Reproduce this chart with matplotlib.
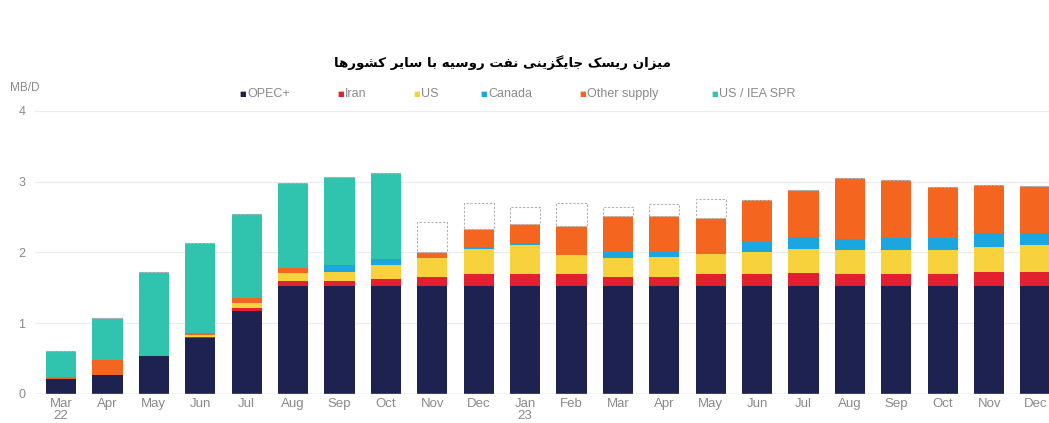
import numpy as np
import matplotlib
matplotlib.use("Agg")
import matplotlib.pyplot as plt

# Monthly supply (MB/D), Mar 2022 - Dec 2023
months = ["Mar\n22", "Apr", "May", "Jun", "Jul", "Aug", "Sep", "Oct", "Nov", "Dec",
          "Jan\n23", "Feb", "Mar", "Apr", "May", "Jun", "Jul", "Aug", "Sep", "Oct", "Nov", "Dec"]
opec = [0.21, 0.27, 0.53, 0.79, 1.17, 1.52, 1.52, 1.52, 1.52, 1.52,
        1.52, 1.52, 1.52, 1.52, 1.52, 1.52, 1.52, 1.52, 1.52, 1.52, 1.52, 1.52]
iran = [0.0, 0.0, 0.0, 0.01, 0.05, 0.07, 0.07, 0.11, 0.135, 0.17,
        0.18, 0.17, 0.135, 0.135, 0.17, 0.17, 0.19, 0.17, 0.17, 0.17, 0.20, 0.20]
us = [0.0, 0.0, 0.0, 0.04, 0.06, 0.12, 0.14, 0.19, 0.27, 0.36,
      0.41, 0.27, 0.265, 0.275, 0.295, 0.31, 0.34, 0.35, 0.35, 0.35, 0.36, 0.38]
canada = [0.0, 0.0, 0.0, 0.0, 0.0, 0.0, 0.09, 0.09, 0.0, 0.03,
          0.03, 0.0, 0.08, 0.07, 0.0, 0.15, 0.17, 0.15, 0.16, 0.16, 0.19, 0.18]
other = [0.035, 0.21, 0.0, 0.02, 0.07, 0.07, 0.0, 0.0, 0.075, 0.25,
         0.26, 0.41, 0.51, 0.52, 0.505, 0.59, 0.66, 0.86, 0.82, 0.73, 0.69, 0.66]
spr = [0.365, 0.59, 1.20, 1.27, 1.19, 1.20, 1.24, 1.21, 0.0, 0.0,
       0.0, 0.0, 0.0, 0.0, 0.0, 0.0, 0.0, 0.0, 0.0, 0.0, 0.0, 0.0]
gap = [0.0, 0.0, 0.0, 0.0, 0.0, 0.0, 0.0, 0.0, 0.43, 0.37,
       0.25, 0.33, 0.14, 0.16, 0.27, 0.0, 0.0, 0.0, 0.0, 0.0, 0.0, 0.0]

labels = ["OPEC+", "Iran", "US", "Canada", "Other supply", "US / IEA SPR"]
colors = ["#1e2250", "#e2212f", "#f8d23c", "#1ca6e0", "#f4661f", "#30c4ae"]

title_fa = "میزان ریسک جایگزینی نفت روسیه با سایر کشورها"

# contextual forms (isolated, final, initial, medial); 2-form letters don't join left
FORMS = {
    "ا": ("\uFE8D", "\uFE8E"), "ب": ("\uFE8F", "\uFE90", "\uFE91", "\uFE92"),
    "ت": ("\uFE95", "\uFE96", "\uFE97", "\uFE98"), "ج": ("\uFE9D", "\uFE9E", "\uFE9F", "\uFEA0"),
    "ر": ("\uFEAD", "\uFEAE"), "ز": ("\uFEAF", "\uFEB0"),
    "س": ("\uFEB1", "\uFEB2", "\uFEB3", "\uFEB4"), "ش": ("\uFEB5", "\uFEB6", "\uFEB7", "\uFEB8"),
    "ف": ("\uFED1", "\uFED2", "\uFED3", "\uFED4"), "م": ("\uFEE1", "\uFEE2", "\uFEE3", "\uFEE4"),
    "ن": ("\uFEE5", "\uFEE6", "\uFEE7", "\uFEE8"), "ه": ("\uFEE9", "\uFEEA", "\uFEEB", "\uFEEC"),
    "و": ("\uFEED", "\uFEEE"), "ی": ("\uFBFC", "\uFBFD", "\uFBFE", "\uFBFF"),
    "ک": ("\uFB8E", "\uFB8F", "\uFB90", "\uFB91"), "گ": ("\uFB92", "\uFB93", "\uFB94", "\uFB95"),
}


def shape(text):
    out = []
    for i, ch in enumerate(text):
        if ch not in FORMS:
            out.append(ch)
            continue
        prev = text[i - 1] if i > 0 else " "
        nxt = text[i + 1] if i + 1 < len(text) else " "
        join_prev = prev in FORMS and len(FORMS[prev]) == 4
        join_next = nxt in FORMS and len(FORMS[ch]) == 4
        f = FORMS[ch]
        if join_prev and join_next:
            out.append(f[3])
        elif join_prev:
            out.append(f[1])
        elif join_next:
            out.append(f[2])
        else:
            out.append(f[0])
    return "".join(out)[::-1]


plt.rcParams["font.family"] = ["Liberation Sans", "DejaVu Sans"]
fig = plt.figure(figsize=(10.49, 4.23), dpi=100)
ax = fig.add_axes([0.0334, 0.0686, 0.9666, 0.669])

x = np.arange(len(months))
bottom = np.zeros(len(months))
for vals, c in zip([opec, iran, us, canada, other, spr], colors):
    ax.bar(x, vals, 0.65, bottom=bottom, color=c, zorder=3)
    bottom += np.array(vals)
ax.bar(x, gap, 0.65, bottom=bottom, color="white", edgecolor="#b0b0b0",
       linewidth=0.8, linestyle=(0, (2, 1.5)), zorder=3)

ax.set_xlim(-0.56, 21.29)
ax.set_ylim(0, 4)
ax.set_yticks([0, 1, 2, 3, 4])
ax.yaxis.grid(True, color="#ececec", linewidth=0.9, zorder=0)
ax.axhline(0, color="#cfcfcf", linewidth=1, zorder=4)
for s in ax.spines.values():
    s.set_visible(False)
ax.tick_params(axis="y", length=0, pad=7, labelsize=9, labelcolor="#8a8a8a")
ax.tick_params(axis="x", length=0, pad=3, labelsize=9.5, labelcolor="#8a8a8a")
ax.set_xticks(x)
ax.set_xticklabels(months, linespacing=1.0, va="top")

fig.text(0.479, 0.852, shape(title_fa), ha="center", va="center", fontsize=9.6,
         fontweight="bold", family="DejaVu Sans")
fig.text(0.010, 0.792, "MB/D", ha="left", va="center", fontsize=8.5, color="#8a8a8a")

leg_x = [243, 341, 417, 484, 583, 715]
for px, lab, c in zip(leg_x, labels, colors):
    fig.text(px / 1049, 0.777, "■", ha="center", va="center", fontsize=5, color=c,
             family="DejaVu Sans")
    fig.text((px + 4) / 1049, 0.777, lab, ha="left", va="center", fontsize=9, color="#8a8a8a")

fig.savefig("out.png", dpi=100, facecolor="white")
